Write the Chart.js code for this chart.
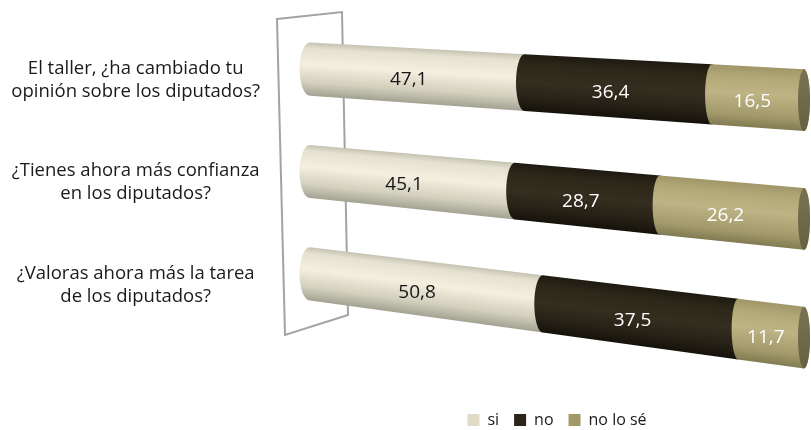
<!DOCTYPE html>
<html>
<head>
<meta charset="utf-8">
<script src="https://cdn.jsdelivr.net/npm/chart.js@4.4.0/dist/chart.umd.min.js"></script>
<style>
  html, body { margin: 0; padding: 0; background: #fff; }
  #wrap { width: 811px; height: 430px; }
</style>
</head>
<body>
<div id="wrap"><canvas id="grafico"></canvas></div>
<script>
// Encuesta del taller: porcentaje de respuestas por pregunta
const preguntas = [
  ['El taller, ¿ha cambiado tu', 'opinión sobre los diputados?'],
  ['¿Tienes ahora más confianza', 'en los diputados?'],
  ['¿Valoras ahora más la tarea', 'de los diputados?']
];
const respuestas = ['si', 'no', 'no lo sé'];
const valoresSi = [47.1, 45.1, 50.8];
const valoresNo = [36.4, 28.7, 37.5];
const valoresNoSe = [16.5, 26.2, 11.7];

// colores de cada serie (leyenda, sombreado del cilindro, tapa final, texto)
const coloresLeyenda = ['#dfdbc6', '#2a2518', '#a29868'];
const sombreado = [
  [[0, '#c4c2b2'], [0.12, '#e6e2d1'], [0.42, '#f4efdf'], [0.75, '#d3d0be'], [1, '#a3a292']],
  [[0, '#1e1a11'], [0.2, '#2d2819'], [0.5, '#342e20'], [0.8, '#252015'], [1, '#15120a']],
  [[0, '#a0976a'], [0.2, '#b3a978'], [0.45, '#bdb384'], [0.8, '#a39a6c'], [1, '#827b52']]
];
const tapas = [['#d8d4c0', '#c4c0ab'], ['#27221a', '#17140c'], ['#7a7352', '#666043']];
const coloresTexto = ['#151515', '#ffffff', '#ffffff'];

// punto de fuga de la perspectiva (px del lienzo)
const fugaX = -2780, fugaY = -125;

const cilindros = {
  id: 'cilindros',
  beforeDatasetsDraw(chart) {
    const ctx = chart.ctx;
    const area = chart.chartArea;
    const xa = area.left, xb = area.right;
    const R = (xb - fugaX) / (xa - fugaX);

    // flat pixel -> pixel en perspectiva
    const proyectar = px => {
      const u = (px - xa) / (xb - xa);
      const s = 1 / (1 - (1 - 1 / R) * u);
      return fugaX + (xa - fugaX) * s;
    };
    const escala = X => (X - fugaX) / (xa - fugaX);
    const radioX = X => 10.5 - 4.5 * (X - xa) / (xb - xa);

    // pared del eje
    ctx.save();
    ctx.strokeStyle = '#a3a3a3';
    ctx.lineWidth = 2;
    ctx.beginPath();
    ctx.moveTo(xa - 33, area.top + 1);
    ctx.lineTo(xa + 32, area.top - 6);
    ctx.lineTo(xa + 38, area.bottom - 10);
    ctx.lineTo(xa - 25, area.bottom + 10);
    ctx.closePath();
    ctx.stroke();
    ctx.restore();

    const n = chart.data.labels.length;
    for (let i = 0; i < n; i++) {
      const etiquetas = [];
      let ultimo = null;
      chart.data.datasets.forEach((ds, d) => {
        const el = chart.getDatasetMeta(d).data[i];
        const yc = el.y, h = el.height;
        const cy = X => fugaY + (yc - fugaY) * escala(X);
        const mitad = X => h / 2 * escala(X);
        const X0 = proyectar(el.base), X1 = proyectar(el.x);

        ctx.save();
        ctx.beginPath();
        ctx.ellipse(X0, cy(X0), radioX(X0), mitad(X0), 0, Math.PI / 2, Math.PI * 1.5);
        ctx.lineTo(X1, cy(X1) - mitad(X1));
        ctx.ellipse(X1, cy(X1), radioX(X1), mitad(X1), 0, -Math.PI / 2, Math.PI / 2);
        ctx.closePath();
        ctx.clip();
        // una columna de 1px por vez, cada una con su degradado vertical
        for (let x = Math.floor(X0 - radioX(X0)) - 1; x <= Math.ceil(X1 + radioX(X1)) + 1; x++) {
          const c = cy(x + 0.5), m = mitad(x + 0.5);
          const g = ctx.createLinearGradient(0, c - m, 0, c + m);
          sombreado[d].forEach(([p, col]) => g.addColorStop(p, col));
          ctx.fillStyle = g;
          ctx.fillRect(x, c - m - 2, 1, 2 * m + 4);
        }
        ctx.restore();

        const Xm = proyectar((el.base + el.x) / 2);
        etiquetas.push({ x: Xm - 5, y: cy(Xm) + 4, texto: ds.data[i].toFixed(1).replace('.', ','), color: coloresTexto[d] });
        ultimo = { X: X1, y: cy(X1), m: mitad(X1), d };
      });

      // tapa del extremo derecho
      if (ultimo) {
        const rx = radioX(ultimo.X);
        const g = ctx.createLinearGradient(ultimo.X - rx, ultimo.y - ultimo.m, ultimo.X + rx, ultimo.y + ultimo.m);
        g.addColorStop(0, tapas[ultimo.d][0]);
        g.addColorStop(1, tapas[ultimo.d][1]);
        ctx.save();
        ctx.fillStyle = g;
        ctx.beginPath();
        ctx.ellipse(ultimo.X, ultimo.y, rx, ultimo.m, 0, 0, Math.PI * 2);
        ctx.fill();
        ctx.restore();
      }

      ctx.save();
      ctx.font = '19px "Open Sans"';
      ctx.textAlign = 'center';
      ctx.textBaseline = 'middle';
      etiquetas.forEach(e => {
        ctx.fillStyle = e.color;
        ctx.fillText(e.texto, e.x, e.y);
      });
      ctx.restore();
    }
    return false;
  }
};

new Chart(document.getElementById('grafico'), {
  type: 'bar',
  data: {
    labels: preguntas,
    datasets: [
      { label: respuestas[0], data: valoresSi, backgroundColor: coloresLeyenda[0] },
      { label: respuestas[1], data: valoresNo, backgroundColor: coloresLeyenda[1] },
      { label: respuestas[2], data: valoresNoSe, backgroundColor: coloresLeyenda[2] }
    ]
  },
  options: {
    indexAxis: 'y',
    responsive: true,
    maintainAspectRatio: false,
    animation: false,
    events: [],
    layout: { padding: { top: 18, right: 7, bottom: -8, left: 0 } },
    datasets: { bar: { categoryPercentage: 1, barPercentage: 0.52 } },
    scales: {
      x: {
        stacked: true,
        min: 0,
        max: 100,
        ticks: { display: false },
        grid: { display: false, drawTicks: false },
        border: { display: false },
        // espacio libre entre los cilindros y la leyenda
        afterFit: scale => { scale.height = 72; }
      },
      y: {
        stacked: true,
        grid: { display: false, drawTicks: false },
        border: { display: false },
        afterFit: scale => {
          scale.width = 310;
          scale.paddingTop = 0;
          scale.paddingBottom = 0;
        },
        ticks: {
          crossAlign: 'center',
          padding: 50,
          labelOffset: 11,
          color: '#1a1a1a',
          font: { family: 'Open Sans', size: 18.5, lineHeight: 1.25 }
        }
      }
    },
    plugins: {
      tooltip: { enabled: false },
      legend: {
        position: 'bottom',
        fullSize: false,
        labels: {
          boxWidth: 12,
          boxHeight: 12,
          padding: 15,
          color: '#1a1a1a',
          font: { family: 'Open Sans', size: 16 }
        }
      }
    }
  },
  plugins: [cilindros]
});
</script>
</body>
</html>
